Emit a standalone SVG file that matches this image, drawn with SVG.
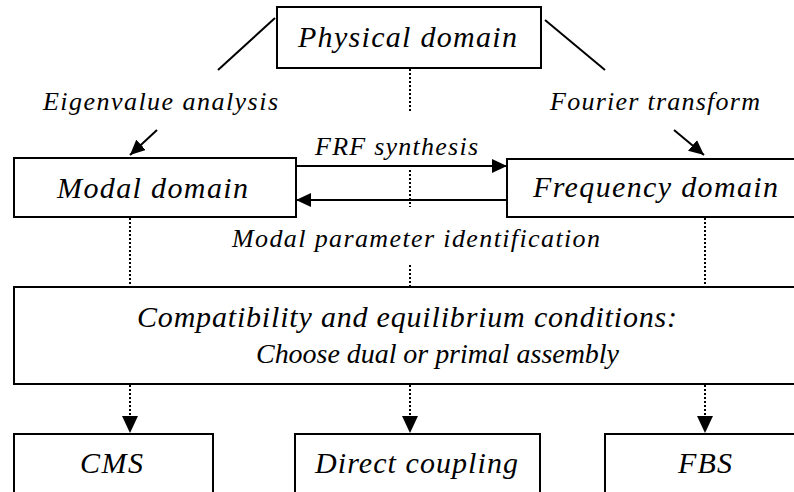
<svg xmlns="http://www.w3.org/2000/svg" width="794" height="492" viewBox="0 0 794 492">
<style>
.box{fill:#fff;stroke:#000;stroke-width:2}
.t{font-family:"Liberation Serif","Times New Roman",serif;font-style:italic;font-size:30px;fill:#000}
.l{font-family:"Liberation Serif","Times New Roman",serif;font-style:italic;font-size:26px;fill:#000}
.ln{stroke:#000;stroke-width:2;fill:none}
.dot{stroke:#000;stroke-width:2;fill:none;stroke-dasharray:2 2}
</style>
<defs>
<marker id="ah" markerUnits="userSpaceOnUse" markerWidth="16" markerHeight="14" refX="15" refY="7" orient="auto">
<path d="M0,0 L15,7 L0,14 z" fill="#000"/>
</marker>
<marker id="ad" markerUnits="userSpaceOnUse" markerWidth="18" markerHeight="16" refX="17" refY="8" orient="auto">
<path d="M0,0 L17,8 L0,16 z" fill="#000"/>
</marker>
</defs>
<rect width="794" height="492" fill="#fff"/>
<g id="connectors">
<line class="ln" x1="275" y1="18" x2="218" y2="70"/>
<line class="ln" x1="545" y1="20" x2="605" y2="70"/>
<line class="ln" x1="157" y1="130" x2="130" y2="155" marker-end="url(#ah)"/>
<line class="ln" x1="674" y1="130" x2="704" y2="155" marker-end="url(#ah)"/>
<line class="ln" x1="296" y1="166" x2="507" y2="166" marker-end="url(#ah)"/>
<line class="ln" x1="507" y1="200" x2="296" y2="200" marker-end="url(#ah)"/>
<line class="dot" x1="410" y1="69" x2="410" y2="112"/>
<line class="dot" x1="410" y1="170" x2="410" y2="207"/>
<line class="dot" x1="410" y1="265" x2="410" y2="287"/>
<line class="dot" x1="130" y1="218" x2="130" y2="287"/>
<line class="dot" x1="705" y1="218" x2="705" y2="287"/>
<line class="dot" x1="130" y1="385" x2="130" y2="433" marker-end="url(#ad)"/>
<line class="dot" x1="410" y1="385" x2="410" y2="433" marker-end="url(#ad)"/>
<line class="dot" x1="705" y1="385" x2="705" y2="433" marker-end="url(#ad)"/>
<text class="l" x="43" y="110" textLength="235">Eigenvalue analysis</text>
<text class="l" x="550" y="110" textLength="210">Fourier transform</text>
<text class="l" x="315" y="155" textLength="163">FRF synthesis</text>
<text class="l" x="232" y="247" textLength="368">Modal parameter identification</text>
</g>
<g id="physical">
<rect class="box" x="277" y="7" width="264" height="61"/>
<text class="t" x="298" y="47" textLength="219">Physical domain</text>
</g>
<g id="modal">
<rect class="box" x="14" y="158" width="282" height="59"/>
<text class="t" x="57" y="198" textLength="191">Modal domain</text>
</g>
<g id="frequency">
<rect class="box" x="507" y="159" width="300" height="58"/>
<text class="t" x="533" y="197" textLength="245">Frequency domain</text>
</g>
<g id="compat">
<rect class="box" x="14" y="287" width="800" height="97"/>
<text class="t" x="137" y="327" textLength="540">Compatibility and equilibrium conditions:</text>
<text class="t" x="256" y="363" style="font-size:28px" textLength="363">Choose dual or primal assembly</text>
</g>
<g id="cms">
<rect class="box" x="14" y="434" width="199" height="70"/>
<text class="t" x="80" y="473" textLength="63">CMS</text>
</g>
<g id="direct">
<rect class="box" x="295" y="434" width="245" height="70"/>
<text class="t" x="315" y="473" textLength="203">Direct coupling</text>
</g>
<g id="fbs">
<rect class="box" x="605" y="434" width="200" height="70"/>
<text class="t" x="678" y="473" textLength="54">FBS</text>
</g>
</svg>
